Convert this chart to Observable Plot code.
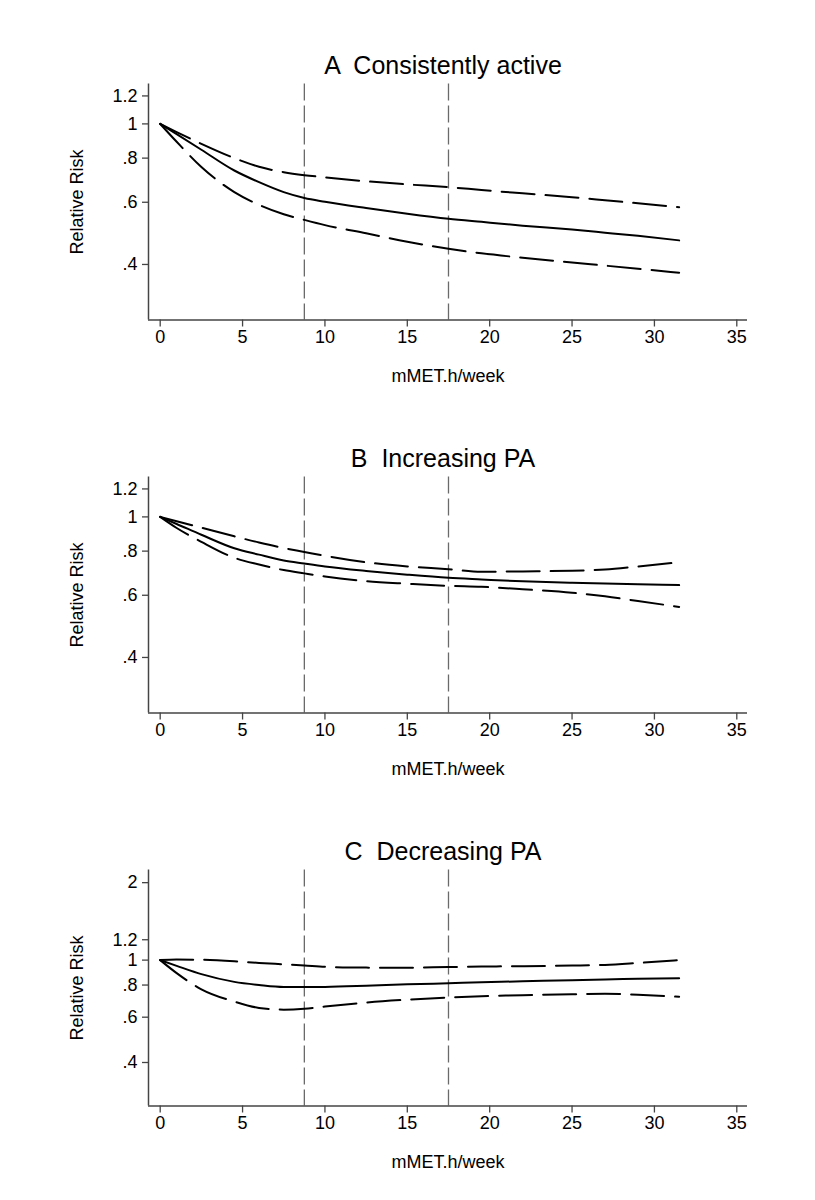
<!DOCTYPE html>
<html>
<head>
<meta charset="utf-8">
<script src="https://cdn.jsdelivr.net/npm/d3@7"></script>
<script src="https://cdn.jsdelivr.net/npm/@observablehq/plot@0.6"></script>
<style>
  body { margin: 0; background: #fff; }
  svg { display: block; }
</style>
</head>
<body>
<div id="chart"></div>
<script>
// ---- data ----
const xGrid = [0, 1, 2.5, 4.5, 6, 7.5, 8.75, 10, 12.5, 15, 17.5, 19.5, 22, 25, 27, 29, 31.5];
const refLines = [8.75, 17.5];
const xTicks = [0, 5, 10, 15, 20, 25, 30, 35];

const titles = ["A  Consistently active", "B  Increasing PA", "C  Decreasing PA"];
const xLabel = "mMET.h/week";
const yLabel = "Relative Risk";

// Panel A
const aSolid = [1, 0.935, 0.845, 0.738, 0.684, 0.641, 0.617, 0.602, 0.578, 0.557, 0.539, 0.528, 0.515, 0.502, 0.492, 0.482, 0.468];
const aUpper = [1, 0.948, 0.878, 0.800, 0.756, 0.730, 0.716, 0.706, 0.688, 0.674, 0.662, 0.650, 0.636, 0.620, 0.608, 0.596, 0.581];
const aLower = [1, 0.890, 0.755, 0.641, 0.590, 0.555, 0.535, 0.517, 0.490, 0.464, 0.443, 0.430, 0.418, 0.405, 0.397, 0.389, 0.379];
// Panel B
const bSolid = [1, 0.955, 0.890, 0.815, 0.782, 0.753, 0.738, 0.724, 0.703, 0.686, 0.672, 0.665, 0.657, 0.651, 0.648, 0.645, 0.641];
const bUpper = [1, 0.972, 0.932, 0.881, 0.846, 0.816, 0.796, 0.776, 0.744, 0.724, 0.711, 0.699, 0.701, 0.704, 0.710, 0.724, 0.744];
const bLower = [1, 0.930, 0.850, 0.766, 0.733, 0.707, 0.692, 0.678, 0.658, 0.647, 0.638, 0.634, 0.624, 0.610, 0.596, 0.578, 0.556];
// Panel C
const cSolid = [1, 0.950, 0.882, 0.823, 0.800, 0.786, 0.786, 0.787, 0.795, 0.805, 0.813, 0.820, 0.827, 0.836, 0.841, 0.846, 0.850];
const cUpper = [1, 1.005, 1.003, 0.990, 0.975, 0.963, 0.953, 0.942, 0.935, 0.934, 0.940, 0.944, 0.947, 0.952, 0.958, 0.975, 1.000];
const cLower = [1, 0.890, 0.770, 0.690, 0.652, 0.642, 0.647, 0.660, 0.684, 0.702, 0.716, 0.724, 0.730, 0.737, 0.740, 0.733, 0.720];

const xDomain = [-0.71, 35.65];
const yDomainAB = [0.2785, 1.297];
const yDomainC = [0.271, 2.24];
const yTicksAB = [0.4, 0.6, 0.8, 1, 1.2];
const yTickLabelsAB = [".4", ".6", ".8", "1", "1.2"];
const yTicksC = [0.4, 0.6, 0.8, 1, 1.2, 2];
const yTickLabelsC = [".4", ".6", ".8", "1", "1.2", "2"];

// ---- drawing ----
const axisColor = "#454545";
const font = "'Liberation Sans', Arial, Helvetica, sans-serif";

function panel(title, solid, upper, lower, yDomain, yTicks, yTickLabels) {
  const fmt = new Map(yTicks.map((t, i) => [t, yTickLabels[i]]));
  const rows = arr => xGrid.map((x, i) => ({x, y: arr[i]}));
  return Plot.plot({
    width: 815,
    height: 393,
    marginLeft: 148,
    marginRight: 68,
    marginTop: 83.5,
    marginBottom: 73.5,
    style: {fontFamily: font, fontSize: "18px", background: "#fff", color: "#000"},
    x: {domain: xDomain},
    y: {type: "log", domain: yDomain},
    marks: [
      Plot.ruleX(refLines, {stroke: "#6a6a6a", strokeWidth: 1.3, strokeDasharray: "17,5"}),
      Plot.line(rows(upper), {x: "x", y: "y", stroke: "#000", strokeWidth: 2, strokeDasharray: "33,11", curve: "monotone-x"}),
      Plot.line(rows(lower), {x: "x", y: "y", stroke: "#000", strokeWidth: 2, strokeDasharray: "33,11", curve: "monotone-x"}),
      Plot.line(rows(solid), {x: "x", y: "y", stroke: "#000", strokeWidth: 2, curve: "monotone-x"}),
      Plot.axisX({ticks: xTicks, tickSize: 7, tickPadding: 3, label: null, stroke: axisColor, strokeWidth: 1.3, fill: "#000", fontSize: 18}),
      Plot.axisY({ticks: yTicks, tickFormat: d => fmt.get(d), tickSize: 6, tickPadding: 5, label: null, stroke: axisColor, strokeWidth: 1.3, fill: "#000", fontSize: 18}),
      Plot.ruleX([xDomain[0]], {stroke: axisColor, strokeWidth: 1.5}),
      Plot.ruleY([yDomain[0]], {stroke: axisColor, strokeWidth: 1.5}),
      Plot.text([title], {text: d => d, frameAnchor: "top", textAnchor: "middle", lineAnchor: "bottom", dy: -10, dx: -5, fontSize: 25, fill: "#000"}),
      Plot.text([xLabel], {text: d => d, frameAnchor: "bottom", textAnchor: "middle", lineAnchor: "bottom", dy: 62, fontSize: 18, fill: "#000"}),
      Plot.text([yLabel], {text: d => d, frameAnchor: "left", textAnchor: "middle", lineAnchor: "middle", rotate: -90, dx: -71, fontSize: 18, fill: "#000"})
    ]
  });
}

const root = document.getElementById("chart");
root.append(panel(titles[0], aSolid, aUpper, aLower, yDomainAB, yTicksAB, yTickLabelsAB));
root.append(panel(titles[1], bSolid, bUpper, bLower, yDomainAB, yTicksAB, yTickLabelsAB));
root.append(panel(titles[2], cSolid, cUpper, cLower, yDomainC, yTicksC, yTickLabelsC));
</script>
</body>
</html>
